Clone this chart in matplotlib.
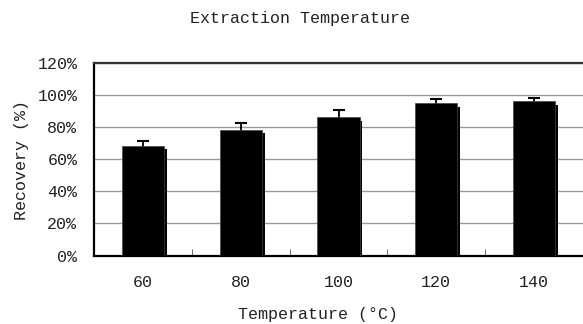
import numpy as np
import matplotlib
matplotlib.use('Agg')
import matplotlib.pyplot as plt
from matplotlib.ticker import PercentFormatter

# data
temps = ['60', '80', '100', '120', '140']
recovery = [68.5, 78.5, 86.5, 95.0, 96.5]
err_up = [3.0, 4.0, 4.5, 2.5, 1.5]

plt.rcParams['font.family'] = ['Liberation Mono', 'DejaVu Sans Mono']
plt.rcParams['font.size'] = 12
text_col = '#222222'

fig = plt.figure(figsize=(5.83, 3.24), dpi=100)
ax = fig.add_axes([94 / 583, 1 - 255.5 / 324, 1 - 94 / 583, (255.5 - 63) / 324])

x = np.arange(len(temps))
width = 0.43

# error bars sit behind the bars so only the upper half shows
ax.errorbar(x, recovery, yerr=err_up, fmt='none', ecolor='black',
            elinewidth=1.3, capsize=4, capthick=1.5, zorder=2)
# shadow bars (slight offset right/down, as in the original)
ax.bar(x + 0.03, np.array(recovery) - 2.4, width=width, color='black',
       linewidth=0, zorder=3)
ax.bar(x, recovery, width=width, color='black', edgecolor='#444444',
       linewidth=0.5, zorder=4)

ax.set_xlim(-0.5, len(temps) - 0.5)
ax.set_ylim(0, 120)
ax.set_yticks(np.arange(0, 121, 20))
ax.yaxis.set_major_formatter(PercentFormatter(decimals=0))
ax.set_xticks(x)
ax.set_xticklabels(temps)
ax.set_xticks(np.arange(0.5, len(temps) - 0.5, 1), minor=True)

ax.tick_params(axis='x', which='major', length=0, pad=14, colors=text_col)
ax.tick_params(axis='x', which='minor', length=5, direction='in', color='#555555')
ax.tick_params(axis='y', length=0, pad=12, colors=text_col)

ax.grid(axis='y', color='#999999', linewidth=1.0, zorder=0)
ax.set_axisbelow(True)
for side in ['left', 'bottom']:
    ax.spines[side].set_color('black')
    ax.spines[side].set_linewidth(1.6)
ax.spines['top'].set_color('#333333')
ax.spines['top'].set_linewidth(1.6)
ax.spines['right'].set_visible(False)

fig.text(300 / 583, 1 - 18 / 324, 'Extraction Temperature', ha='center',
         va='center', color=text_col)
fig.text(318 / 583, 1 - 314 / 324, 'Temperature (°C)', ha='center',
         va='center', color=text_col)
fig.text(22 / 583, 1 - 160 / 324, 'Recovery (%)', ha='center', va='center',
         rotation=90, color=text_col)

plt.savefig('out.png', dpi=100)
